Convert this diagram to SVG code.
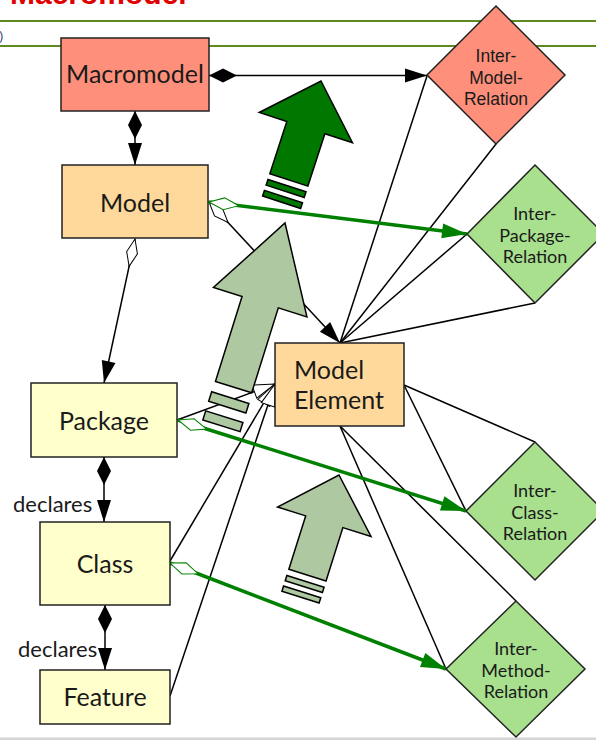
<svg xmlns="http://www.w3.org/2000/svg" width="596" height="740" viewBox="0 0 596 740">
<style>
.box{stroke:#222;stroke-width:1.5}
.salmon{fill:#fe907b}
.orange{fill:#ffd99b}
.yellow{fill:#ffffcc}
.green{fill:#a8e08e}
.lbl{font-family:Lato,"Noto Sans",sans-serif;font-size:25px;fill:#1a1a1a}
.dlbl{font-family:Lato,"Noto Sans",sans-serif;font-size:18px;fill:#1a1a1a;text-anchor:middle}
.alb{font-family:"Liberation Sans",Arial,sans-serif;font-size:17.5px;fill:#1a1a1a;text-anchor:middle}
.c{stroke:#000;stroke-width:1.5;fill:none}
.g{stroke:#008000;stroke-width:3.5;fill:none}
.big{stroke:#000;stroke-width:1.5}
</style>
<defs>
<marker id="fdia" markerUnits="userSpaceOnUse" orient="auto" overflow="visible" markerWidth="1" markerHeight="1" refX="0" refY="0"><path d="M0,0 L14,-7 L28,0 L14,7 Z" fill="#000"/></marker>
<marker id="farr" markerUnits="userSpaceOnUse" orient="auto" overflow="visible" markerWidth="1" markerHeight="1" refX="0" refY="0"><path d="M0,0 L-22,-7 L-22,7 Z" fill="#000"/></marker>
<marker id="hdia" markerUnits="userSpaceOnUse" orient="auto" overflow="visible" markerWidth="1" markerHeight="1" refX="0" refY="0"><path d="M0,0 L14,-5.5 L28,0 L14,5.5 Z" fill="#fff" stroke="#000" stroke-width="1"/></marker>
<marker id="harr" markerUnits="userSpaceOnUse" orient="auto" overflow="visible" markerWidth="1" markerHeight="1" refX="0" refY="0"><path d="M0,0 L-22,-7 L-22,7 Z" fill="#fff" stroke="#000" stroke-width="1"/></marker>
<marker id="gdia" markerUnits="userSpaceOnUse" orient="auto" overflow="visible" markerWidth="1" markerHeight="1" refX="0" refY="0"><path d="M0,0 L15,-6 L30,0 L15,6 Z" fill="#fff" stroke="#008000" stroke-width="1"/></marker>
<marker id="garr" markerUnits="userSpaceOnUse" orient="auto" overflow="visible" markerWidth="1" markerHeight="1" refX="0" refY="0"><path d="M0,0 L-25,-7.5 L-25,7.5 Z" fill="#008000"/></marker>
</defs>
<rect width="596" height="740" fill="#fff"/>
<text x="10" y="3.5" font-family="'Liberation Sans',Arial,sans-serif" font-weight="bold" font-size="30" fill="#e00000">Macromodel</text>
<text x="-1" y="40" font-family="'Liberation Sans',Arial,sans-serif" font-size="13" fill="#334a6e">)</text>
<line x1="0" y1="21" x2="596" y2="21" stroke="#5e8a20" stroke-width="2"/>
<line x1="0" y1="46" x2="596" y2="46" stroke="#5e8a20" stroke-width="2"/>
<rect x="0" y="737.5" width="596" height="2.5" fill="#d4d4d4"/>

<g id="connectors">
<line class="c" x1="209" y1="75.5" x2="427" y2="75.5" marker-start="url(#fdia)" marker-end="url(#farr)"/>
<line class="c" x1="135" y1="111" x2="135" y2="165" marker-start="url(#fdia)" marker-end="url(#farr)"/>
<line class="c" x1="104" y1="457" x2="104" y2="522" marker-start="url(#fdia)" marker-end="url(#farr)"/>
<line class="c" x1="105" y1="605" x2="105" y2="670" marker-start="url(#fdia)" marker-end="url(#farr)"/>
<line class="c" x1="135" y1="239" x2="104" y2="383" marker-start="url(#hdia)" marker-end="url(#farr)"/>
<line class="c" x1="209" y1="202" x2="340" y2="343" marker-start="url(#hdia)" marker-end="url(#farr)"/>
<line class="c" x1="177" y1="420" x2="275" y2="384" marker-end="url(#harr)"/>
<line class="c" x1="170" y1="561" x2="275" y2="384" marker-end="url(#harr)"/>
<line class="c" x1="170" y1="696" x2="275" y2="384" marker-end="url(#harr)"/>
<line class="c" x1="340" y1="343" x2="427" y2="76"/>
<line class="c" x1="340" y1="343" x2="496" y2="144"/>
<line class="c" x1="340" y1="343" x2="467" y2="234"/>
<line class="c" x1="340" y1="343" x2="535" y2="303"/>
<line class="c" x1="404" y1="385" x2="535" y2="442"/>
<line class="c" x1="404" y1="385" x2="466" y2="511"/>
<line class="c" x1="340" y1="426" x2="516" y2="601"/>
<line class="c" x1="340" y1="426" x2="446" y2="669"/>
<line class="g" x1="209" y1="202" x2="467" y2="234" marker-start="url(#gdia)" marker-end="url(#garr)"/>
<line class="g" x1="178" y1="420" x2="466" y2="511" marker-start="url(#gdia)" marker-end="url(#garr)"/>
<line class="g" x1="170" y1="563" x2="446" y2="669" marker-start="url(#gdia)" marker-end="url(#garr)"/>
<text x="13" y="512" font-family="Lato,'Noto Sans',sans-serif" font-size="22" fill="#1a1a1a">declares</text>
<text x="18" y="657" font-family="Lato,'Noto Sans',sans-serif" font-size="22" fill="#1a1a1a">declares</text>
</g>

<g id="arrowA" transform="translate(321,81) rotate(18)">
<polygon class="big" fill="#007800" points="0,0 49,49 20,49 20,104 -20,104 -20,49 -49,49"/>
<rect class="big" fill="#007800" x="-20" y="110" width="40" height="6"/>
<rect class="big" fill="#007800" x="-20" y="121.5" width="40" height="6"/>
</g>
<g id="arrowB" transform="translate(285,223) rotate(17.4)">
<polygon class="big" fill="#aec9a1" points="0,0 49,83 19,83 19,172 -19,172 -19,83 -49,83"/>
<rect class="big" fill="#aec9a1" x="-19.5" y="183" width="39" height="10"/>
<rect class="big" fill="#aec9a1" x="-19.5" y="203" width="39" height="9.5"/>
</g>
<g id="arrowC" transform="translate(339,475) rotate(17.5)">
<polygon class="big" fill="#aec9a1" points="0,0 49,49 19.5,49 19.5,105 -19.5,105 -19.5,49 -49,49"/>
<rect class="big" fill="#aec9a1" x="-19.5" y="111.5" width="39" height="5.5"/>
<rect class="big" fill="#aec9a1" x="-19.5" y="122.5" width="39" height="5.5"/>
</g>

<g id="macromodel"><rect class="box salmon" x="61" y="38" width="148" height="73"/><text class="lbl" x="135" y="83" text-anchor="middle">Macromodel</text></g>
<g id="model"><rect class="box orange" x="62" y="165" width="146" height="73"/><text class="lbl" x="135" y="212" text-anchor="middle">Model</text></g>
<g id="package"><rect class="box yellow" x="31" y="383" width="146" height="74"/><text class="lbl" x="104" y="430" text-anchor="middle">Package</text></g>
<g id="class"><rect class="box yellow" x="40" y="522" width="130" height="83"/><text class="lbl" x="105" y="573" text-anchor="middle">Class</text></g>
<g id="feature"><rect class="box yellow" x="40" y="670" width="130" height="54"/><text class="lbl" x="105" y="706" text-anchor="middle">Feature</text></g>
<g id="modelelement"><rect class="box orange" x="275" y="343" width="129" height="83"/><text class="lbl" x="294" y="379">Model</text><text class="lbl" x="294" y="409">Element</text></g>

<g id="intermodel"><polygon class="box salmon" points="496,6 565,75 496,144 427,75"/><text class="alb" x="496" y="62">Inter-</text><text class="alb" x="496" y="83.5">Model-</text><text class="alb" x="496" y="105">Relation</text></g>
<g id="interpackage"><polygon class="box green" points="535,165 604,234 535,303 467,234"/><text class="dlbl" x="535" y="220">Inter-</text><text class="dlbl" x="535" y="241.5">Package-</text><text class="dlbl" x="535" y="263">Relation</text></g>
<g id="interclass"><polygon class="box green" points="535,442 604,511 535,580 466,511"/><text class="dlbl" x="535" y="497">Inter-</text><text class="dlbl" x="535" y="518.5">Class-</text><text class="dlbl" x="535" y="540">Relation</text></g>
<g id="intermethod"><polygon class="box green" points="516,601 585,669 516,737 446,669"/><text class="dlbl" x="516" y="655">Inter-</text><text class="dlbl" x="516" y="676.5">Method-</text><text class="dlbl" x="516" y="698">Relation</text></g>
</svg>
